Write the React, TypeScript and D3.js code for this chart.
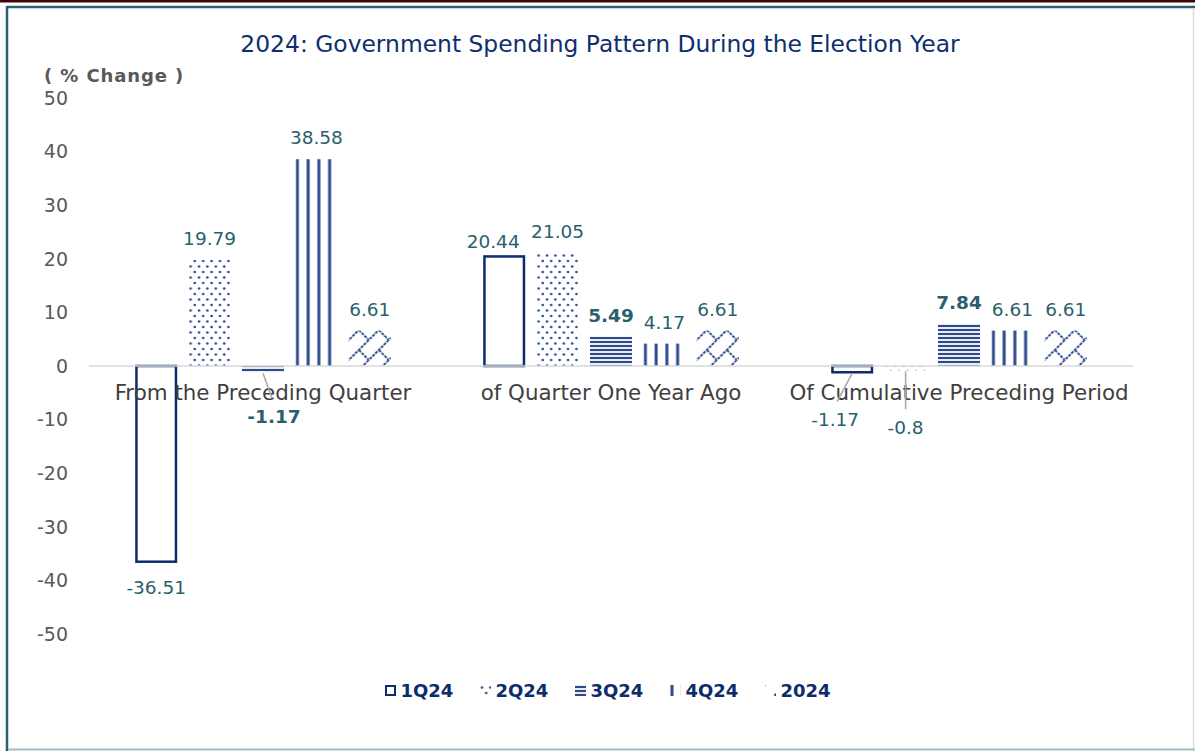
import { scaleBand, scaleLinear } from 'd3'

const CATEGORIES = [
  'From the Preceding Quarter',
  'of Quarter One Year Ago',
  'Of Cumulative Preceding Period',
]
const SERIES = ['1Q24', '2Q24', '3Q24', '4Q24', '2024']

// one array per series, in category order
const Q1_24 = [-36.51, 20.44, -1.17]
const Q2_24 = [19.79, 21.05, -0.8]
const Q3_24 = [-1.17, 5.49, 7.84]
const Q4_24 = [38.58, 4.17, 6.61]
const FY_2024 = [6.61, 6.61, 6.61]
const VALUES = [Q1_24, Q2_24, Q3_24, Q4_24, FY_2024]

const Y_DOMAIN = [-50, 50]
const TITLE = '2024: Government Spending Pattern During the Election Year'
const Y_LABEL = '( % Change )'

const FONT = "'DejaVu Sans', Verdana, sans-serif"
const NAVY = '#0d2c6c'
const PAT = '#2c4a8c'
const TEAL = '#2a5f6e'

// labels that Excel drew in bold / moved out with a leader line
const BOLD = new Set(['0|2', '1|2', '2|2'])
const CALLOUTS: Record<string, [number, number]> = {
  '0|2': [11, 44],
  '2|0': [-17, 47],
  '2|1': [0, 57],
}
const SHIFTS: Record<string, [number, number]> = {
  '1|0': [-11, 7],
}

export default function App() {
  const width = 1195
  const height = 751

  const y = scaleLinear().domain(Y_DOMAIN).range([634, 98])
  const x0 = scaleBand().domain(CATEGORIES).range([89, 1133])
  const x1 = scaleBand()
    .domain(SERIES)
    .range([0, x0.bandwidth()])
    .paddingInner(0.213)
    .paddingOuter(0.865)
  const bw = x1.bandwidth()

  const fillFor = (s: string) => (s === '1Q24' ? '#fff' : `url(#pat-${s})`)

  const bars = CATEGORIES.flatMap((c, ci) =>
    SERIES.map((s, si) => ({ c, ci, s, si, v: VALUES[si][ci] }))
  )

  return (
    <svg
      width={width}
      height={height}
      style={{ position: 'absolute', left: 0, top: 0, background: '#fff' }}
      fontFamily={FONT}
    >
      <defs>
        <pattern id='pat-2Q24' patternUnits='userSpaceOnUse' width={8.4} height={11}>
          <rect width={8.4} height={11} fill='#fff' />
          <circle cx={2} cy={2.5} r={1.3} fill={PAT} />
          <circle cx={6.2} cy={8} r={1.3} fill={PAT} />
        </pattern>
        <pattern id='pat-3Q24' patternUnits='userSpaceOnUse' width={10} height={4}>
          <rect width={10} height={4} fill='#fff' />
          <rect y={0.9} width={10} height={2.2} fill={PAT} />
        </pattern>
        <pattern id='pat-4Q24' patternUnits='userSpaceOnUse' width={10.75} height={10}>
          <rect width={10.75} height={10} fill='#fff' />
          <rect x={0.5} width={3} height={10} fill={PAT} />
        </pattern>
        <pattern id='pat-2024' patternUnits='userSpaceOnUse' width={20} height={20}>
          <rect width={20} height={20} fill='#fff' />
          <path
            d='M-2,22 L22,-2 M10,10 L20,20 M-2,2 L2,-2 M18,22 L22,18'
            stroke={PAT}
            strokeWidth={1.9}
            strokeDasharray='3 1'
            fill='none'
          />
        </pattern>
      </defs>

      {/* frame */}
      <rect x={0} y={0} width={width} height={2.5} fill='#3d0606' />
      <line x1={7} y1={7} x2={width} y2={7} stroke='#2a6170' strokeWidth={2.5} />
      <line x1={7} y1={6} x2={7} y2={height} stroke='#2a6170' strokeWidth={2.5} />
      <line x1={1193.5} y1={8} x2={1193.5} y2={height} stroke='#d3dde2' strokeWidth={1.5} />
      <line x1={8} y1={749.5} x2={width} y2={749.5} stroke='#a3bbc4' strokeWidth={2} />

      {/* title */}
      <text x={600} y={52} textAnchor='middle' fontSize={23.4} fill='#0f2e6e'>
        {TITLE}
      </text>
      <text
        x={44}
        y={82}
        fontSize={18}
        letterSpacing={0.9}
        fontWeight='bold'
        fill='#595959'
        xmlSpace='preserve'
      >
        {Y_LABEL}
      </text>

      {/* y ticks */}
      {y.ticks(10).map((t) => (
        <text key={t} x={68} y={y(t)} dy='0.36em' textAnchor='end' fontSize={19} fill='#595959'>
          {t}
        </text>
      ))}

      {/* bars */}
      {bars.map((d) => {
        const bx = x0(d.c)! + x1(d.s)!
        const top = y(Math.max(0, d.v))
        const h = Math.abs(y(d.v) - y(0))
        return (
          <g key={`${d.ci}-${d.si}`} transform={`translate(${bx}, 0)`}>
            <rect
              x={d.s === '1Q24' ? 1.25 : 0}
              y={top}
              width={d.s === '1Q24' ? bw - 2.5 : bw}
              height={h}
              fill={fillFor(d.s)}
              stroke={d.s === '1Q24' ? NAVY : 'none'}
              strokeWidth={2.5}
            />
          </g>
        )
      })}

      {/* zero line */}
      <line x1={89} x2={1133} y1={y(0)} y2={y(0)} stroke='#d9d9d9' strokeWidth={1.5} />

      {/* category labels */}
      {CATEGORIES.map((c) => (
        <text
          key={c}
          x={x0(c)! + x0.bandwidth() / 2}
          y={400}
          textAnchor='middle'
          fontSize={21.4}
          fill='#404040'
        >
          {c}
        </text>
      ))}

      {/* data labels */}
      {bars.map((d) => {
        const key = `${d.ci}|${d.si}`
        const cx = x0(d.c)! + x1(d.s)! + bw / 2
        const bold = BOLD.has(key)
        const common = {
          textAnchor: 'middle' as const,
          fontSize: 18.5,
          fill: TEAL,
          fontWeight: bold ? 'bold' : 'normal',
        }
        const call = CALLOUTS[key]
        if (call) {
          const bottom = y(d.v)
          const lx = cx + call[0]
          const ly = bottom + call[1]
          const ex = lx - Math.sign(call[0]) * 2
          return (
            <g key={key}>
              <line x1={cx} y1={bottom + 1} x2={ex} y2={ly - 18} stroke='#a6a6a6' strokeWidth={1.5} />
              <text x={lx} y={ly} dy='0.36em' {...common}>
                {d.v}
              </text>
            </g>
          )
        }
        const sh = SHIFTS[key] || [0, 0]
        const ly = d.v >= 0 ? y(d.v) - 15 : y(d.v) + 32
        return (
          <text key={key} x={cx + sh[0]} y={ly + sh[1]} {...common}>
            {d.v}
          </text>
        )
      })}

      {/* legend */}
      {SERIES.map((s, i) => {
        const lx = 385 + i * 95
        return (
          <g key={s} transform={`translate(${lx}, 685)`}>
            <rect
              x={s === '1Q24' ? 1 : 0}
              y={s === '1Q24' ? 1 : 0}
              width={s === '1Q24' ? 9 : 11}
              height={s === '1Q24' ? 9 : 11}
              fill={fillFor(s)}
              stroke={s === '1Q24' ? NAVY : 'none'}
              strokeWidth={2}
            />
            <text x={15.5} y={11.5} fontSize={18} fontWeight='bold' fill={NAVY}>
              {s}
            </text>
          </g>
        )
      })}
    </svg>
  )
}
